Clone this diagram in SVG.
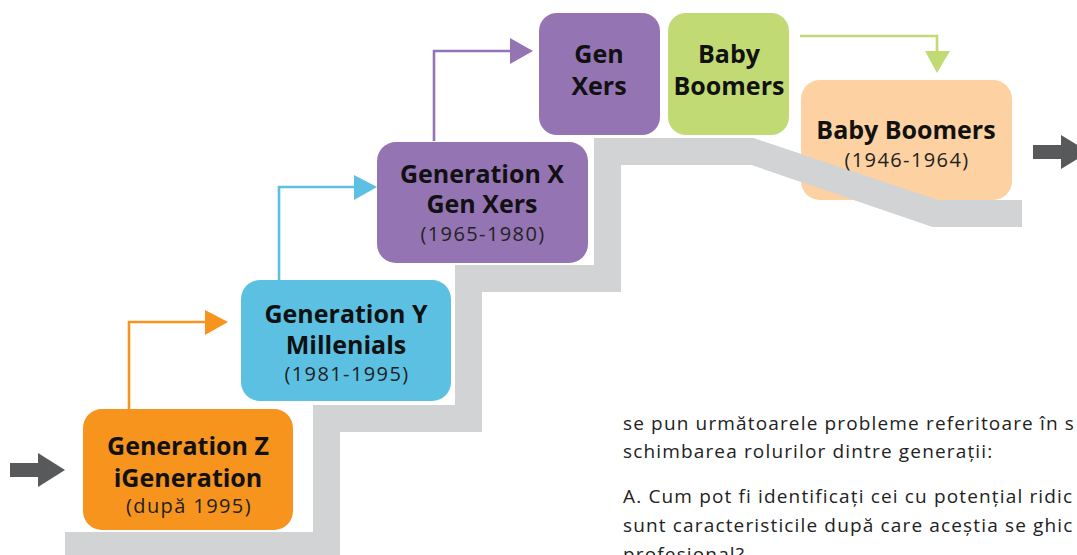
<svg xmlns="http://www.w3.org/2000/svg" xmlns:xlink="http://www.w3.org/1999/xlink" width="1077" height="555" viewBox="0 0 1077 555">
  <style>
    .title { font-family: "Open Sans", "Liberation Sans", sans-serif; font-weight: 700; font-size: 25px; fill: #111; text-anchor: middle; }
    .years { font-family: "Open Sans", "Liberation Sans", sans-serif; font-weight: 400; font-size: 20px; letter-spacing: 1.4px; fill: #222; text-anchor: middle; }
    .body { font-family: "Open Sans", "Liberation Sans", sans-serif; font-weight: 400; font-size: 19px; letter-spacing: 1.15px; fill: #222; }
    .link { fill: none; stroke-width: 2.6; }
    .orange { fill: #F7941E; }
    .blue { fill: #5BC0E2; }
    .purple { fill: #9574B4; }
    .green { fill: #C2DA73; }
    .peach { fill: #FDD1A1; }
    .flow { fill: #58595B; }
  </style>
  <defs>
    <!-- grey staircase band that the generations climb -->
    <polygon id="stairs" fill="#D1D3D4"
      points="65,560 65,532 313,532 313,405 455,405 455,265 594,265 594,138 753,138 938,200 1022,200 1022,227 933,227 752,165 621,165 621,292 482,292 482,432 340,432 340,560"/>
  </defs>

  <rect width="1077" height="555" fill="#fff"/>

  <!-- staircase -->
  <g id="staircase">
    <use xlink:href="#stairs" href="#stairs"/>
  </g>

  <!-- flow arrows at both ends -->
  <g id="flow-arrows">
    <polygon class="flow" points="10,463 38,463 38,453 65,470 38,487 38,477 10,477"/>
    <polygon class="flow" points="1033,145 1061,145 1061,135 1089,152 1061,169 1061,159 1033,159"/>
  </g>

  <!-- connectors between generations -->
  <g id="connectors">
    <polyline class="link" stroke="#F7941E" points="129,409 129,322 206,322"/>
    <polygon class="orange" points="205,310 228,322 205,335"/>
    <polyline class="link" stroke="#5BC0E2" points="279,280 279,187 355,187"/>
    <polygon class="blue" points="354,175 377,187 354,200"/>
    <polyline class="link" stroke="#9574B4" points="434,141 434,51 511,51"/>
    <polygon class="purple" points="510,38 533,51 510,64"/>
    <polyline class="link" stroke="#C2DA73" points="800,36 937,36 937,53"/>
    <polygon class="green" points="925,51 937,73 950,51"/>
  </g>

  <g id="gen-z">
    <rect class="orange" x="83" y="409" width="210" height="121" rx="19"/>
    <text class="title" x="188" y="455">Generation Z</text>
    <text class="title" x="188" y="487">iGeneration</text>
    <text class="years" x="189" y="513">(după 1995)</text>
  </g>

  <g id="gen-y">
    <rect class="blue" x="241" y="280" width="210" height="121" rx="19"/>
    <text class="title" x="346" y="323">Generation Y</text>
    <text class="title" x="346" y="354">Millenials</text>
    <text class="years" x="347" y="381">(1981-1995)</text>
  </g>

  <g id="gen-x">
    <rect class="purple" x="377" y="142" width="211" height="121" rx="19"/>
    <text class="title" x="482" y="183">Generation X</text>
    <text class="title" x="482" y="213">Gen Xers</text>
    <text class="years" x="483" y="241">(1965-1980)</text>
  </g>

  <g id="gen-xers">
    <rect class="purple" x="539" y="13" width="121" height="122" rx="18"/>
    <text class="title" x="599" y="63">Gen</text>
    <text class="title" x="599" y="95">Xers</text>
  </g>

  <g id="baby-boomers-short">
    <rect class="green" x="668" y="13" width="121" height="122" rx="18"/>
    <text class="title" x="729" y="63">Baby</text>
    <text class="title" x="729" y="95">Boomers</text>
  </g>

  <g id="baby-boomers">
    <rect class="peach" x="801" y="80" width="211" height="120" rx="19"/>
    <!-- the stair band passes in front of this box, its label stays on top -->
    <use xlink:href="#stairs" href="#stairs"/>
    <text class="title" x="906" y="139">Baby Boomers</text>
    <text class="years" x="907" y="167">(1946-1964)</text>
  </g>

  <g id="body-text">
    <text class="body" x="623" y="430">se pun următoarele probleme referitoare în s</text>
    <text class="body" x="623" y="458">schimbarea rolurilor dintre generații:</text>
    <text class="body" x="623" y="503">A. Cum pot fi identificați cei cu potențial ridic</text>
    <text class="body" x="623" y="532">sunt caracteristicile după care aceștia se ghic</text>
    <text class="body" x="623" y="561">profesional?</text>
  </g>
</svg>
